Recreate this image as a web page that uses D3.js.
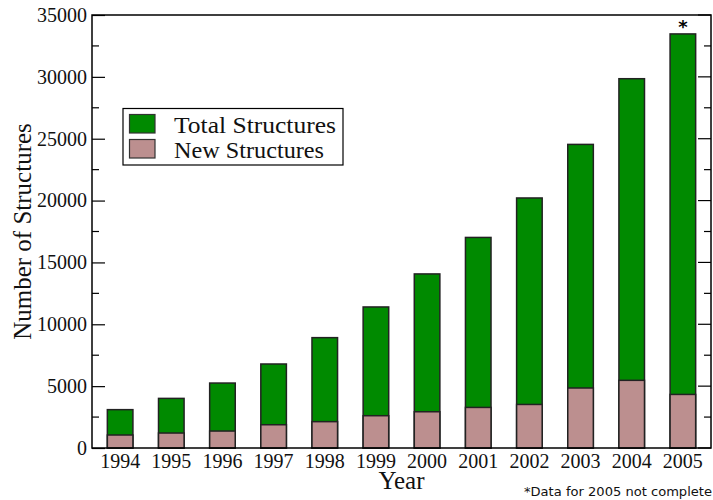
<!DOCTYPE html>
<html><head><meta charset="utf-8">
<script src="https://cdn.jsdelivr.net/npm/d3@7"></script>
<style>body{margin:0;background:#fff}</style>
</head><body>
<svg id="c" width="713" height="500"></svg>
<script>
const years = ["1994","1995","1996","1997","1998","1999","2000","2001","2002","2003","2004","2005"];
const totalStructures = [3100,4010,5250,6790,8920,11400,14070,17020,20210,24540,29850,33470];
const newStructures = [1050,1210,1370,1880,2130,2610,2930,3280,3520,4850,5470,4330];
const yTicks = [0,5000,10000,15000,20000,25000,30000,35000];
const seriesNames = ["Total Structures","New Structures"];

const svg = d3.select("#c");
const L=92, R=711, T=15, B=448;
const serif = "'Liberation Serif','Times New Roman',serif";
const green = "#008a00", pink = "#bc8f8f", stroke = "#222";

const x = d3.scaleBand().domain(years).range([L,R]).paddingInner(0.5).paddingOuter(0.3);
const y = d3.scaleLinear().domain([0,35000]).range([B,T]);

// bars
const g = svg.append("g");
g.selectAll(".tot").data(years).join("rect")
  .attr("x", d=>x(d)).attr("width", x.bandwidth())
  .attr("y", (d,i)=>y(totalStructures[i])).attr("height",(d,i)=>y(0)-y(totalStructures[i]))
  .attr("fill", green).attr("stroke", stroke).attr("stroke-width",1.5);
g.selectAll(".nw").data(years).join("rect")
  .attr("x", d=>x(d)).attr("width", x.bandwidth())
  .attr("y", (d,i)=>y(newStructures[i])).attr("height",(d,i)=>y(0)-y(newStructures[i]))
  .attr("fill", pink).attr("stroke", stroke).attr("stroke-width",1.5);

// frame
svg.append("rect").attr("x",L).attr("y",T).attr("width",R-L).attr("height",B-T)
  .attr("fill","none").attr("stroke","#000").attr("stroke-width",1.5);

// y axis left
const yAxis = d3.axisLeft(y).tickValues(yTicks).tickSize(-13).tickPadding(5).tickFormat(d3.format("d"));
const ya = svg.append("g").attr("transform",`translate(${L},0)`).call(yAxis);
ya.attr("font-family",serif).attr("font-size",20);
ya.select(".domain").remove();
ya.selectAll("line").attr("stroke","#000").attr("stroke-width",1.2);
ya.selectAll("text").attr("fill","#111");
// minor ticks
const minor = d3.range(2500,35000,5000);
svg.append("g").selectAll("line").data(minor).join("line")
  .attr("x1",L).attr("x2",L+7).attr("y1",d=>y(d)).attr("y2",d=>y(d)).attr("stroke","#000").attr("stroke-width",1.2);
// right ticks
svg.append("g").selectAll("line").data(yTicks).join("line")
  .attr("x1",R).attr("x2",R-13).attr("y1",d=>y(d)).attr("y2",d=>y(d)).attr("stroke","#000").attr("stroke-width",1.2);
svg.append("g").selectAll("line").data(minor).join("line")
  .attr("x1",R).attr("x2",R-7).attr("y1",d=>y(d)).attr("y2",d=>y(d)).attr("stroke","#000").attr("stroke-width",1.2);

// x axis
const xAxis = d3.axisBottom(x).tickSize(0).tickPadding(6);
const xa = svg.append("g").attr("transform",`translate(0,${B})`).call(xAxis);
xa.attr("font-family",serif).attr("font-size",20);
xa.select(".domain").remove();
xa.selectAll("text").attr("fill","#111");

// titles
svg.append("text").attr("x",(L+R)/2).attr("y",489).attr("text-anchor","middle")
  .attr("font-family",serif).attr("font-size",25).attr("fill","#111").text("Year");
svg.append("text").attr("transform",`translate(31,${(T+B)/2}) rotate(-90)`).attr("text-anchor","middle")
  .attr("font-family",serif).attr("font-size",25).attr("fill","#111").text("Number of Structures");

// legend
const lg = svg.append("g");
lg.append("rect").attr("x",123).attr("y",108.5).attr("width",220).attr("height",56.5)
  .attr("fill","#fff").attr("stroke","#000").attr("stroke-width",1.2);
[green,pink].forEach((c,i)=>{
  lg.append("rect").attr("x",129.5).attr("y",114.5+i*25).attr("width",25.5).attr("height",18.5)
    .attr("fill",c).attr("stroke","#333").attr("stroke-width",1.2);
  lg.append("text").attr("x",174).attr("y",133+i*25).attr("font-family",serif).attr("font-size",24)
    .attr("fill","#111").attr("textLength",i===0?162:150).attr("lengthAdjust","spacingAndGlyphs")
    .text(seriesNames[i]);
});

// asterisk
svg.append("text").attr("x",x("2005")+x.bandwidth()/2).attr("y",33).attr("text-anchor","middle")
  .attr("font-family","'DejaVu Sans',sans-serif").attr("font-weight","bold").attr("font-size",18).text("*");

// footnote
svg.append("text").attr("x",524).attr("y",496).attr("font-family","'DejaVu Sans',sans-serif")
  .attr("font-size",12).attr("fill","#111").attr("textLength",188).attr("lengthAdjust","spacingAndGlyphs")
  .text("*Data for 2005 not complete");
</script>
</body></html>
